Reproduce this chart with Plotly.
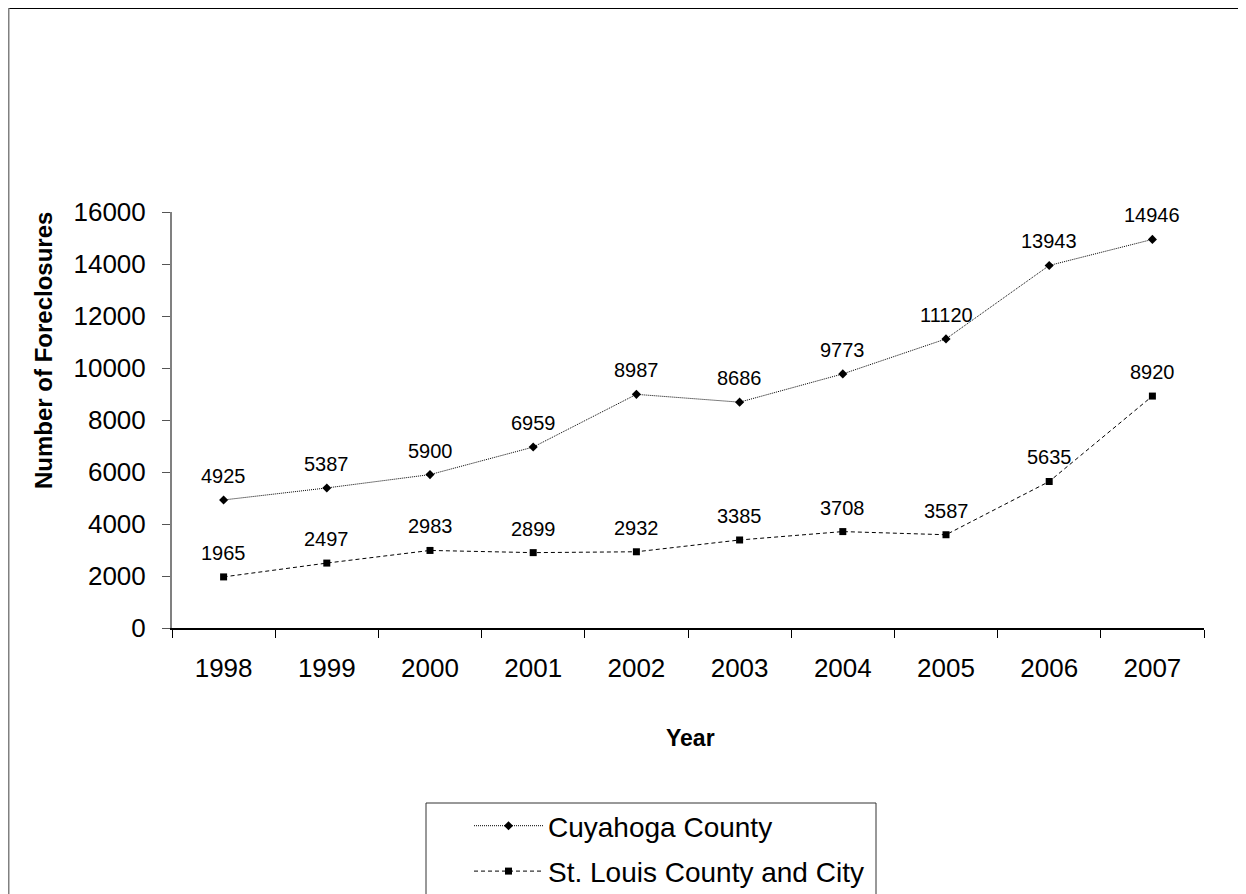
import plotly.graph_objects as go

years = ["1998", "1999", "2000", "2001", "2002", "2003", "2004", "2005", "2006", "2007"]
cuyahoga = [4925, 5387, 5900, 6959, 8987, 8686, 9773, 11120, 13943, 14946]
st_louis = [1965, 2497, 2983, 2899, 2932, 3385, 3708, 3587, 5635, 8920]
y_ticks = [0, 2000, 4000, 6000, 8000, 10000, 12000, 14000, 16000]

# page has an 8px body margin; work in figure coordinates
OFF = 8
W, H = 1246 - OFF, 894 - OFF
L, R, T, B = 172 - OFF, 1204 - OFF, 212 - OFF, 628 - OFF
FONT = "Liberation Sans, Arial, sans-serif"


def px_x(px):  # figure px -> paper x
    return (px - L) / (R - L)


def px_y(py):  # figure px -> paper y
    return (B - py) / (B - T)


fig = go.Figure()
fig.add_trace(go.Scatter(
    x=years, y=cuyahoga, name="Cuyahoga County", mode="lines+markers",
    line=dict(color="black", width=1, dash="1px,1px"),
    marker=dict(symbol="diamond", size=7, color="black"),
    legendgroup="a",
))
fig.add_trace(go.Scatter(
    x=years, y=st_louis, name="St. Louis County and City", mode="lines+markers",
    line=dict(color="black", width=1, dash="4px,3px"),
    marker=dict(symbol="square", size=7, color="black"),
    legendgroup="b",
))

annotations = []
for series in (cuyahoga, st_louis):
    for i, v in enumerate(series):
        annotations.append(dict(
            x=i, y=v, xref="x", yref="y", text=str(v), showarrow=False,
            xanchor="center", yanchor="middle",
            yshift=24, font=dict(size=20, color="black", family=FONT),
        ))

annotations.append(dict(
    x=px_x(35), y=px_y(343), xref="paper", yref="paper",
    xanchor="center", yanchor="middle",
    text="<b>Number of Foreclosures</b>", textangle=-90, showarrow=False,
    font=dict(size=24, color="black", family=FONT),
))
annotations.append(dict(
    x=px_x(682), y=px_y(730), xref="paper", yref="paper",
    xanchor="center", yanchor="middle",
    text="<b>Year</b>", showarrow=False,
    font=dict(size=23, color="black", family=FONT),
))

shapes = [
    # outer frame top
    dict(type="line", xref="paper", yref="paper", x0=px_x(0), x1=px_x(W + 10),
         y0=px_y(-0.5), y1=px_y(-0.5), line=dict(color="black", width=3)),
    # outer frame left
    dict(type="line", xref="paper", yref="paper", x0=px_x(0), x1=px_x(0),
         y0=px_y(0), y1=px_y(H + 10), line=dict(color="#808080", width=3)),
    # legend box
    dict(type="rect", xref="paper", yref="paper", x0=px_x(418), x1=px_x(868),
         y0=px_y(795), y1=px_y(H + 20), line=dict(color="#333333", width=1),
         fillcolor="rgba(0,0,0,0)"),
]

fig.update_layout(
    width=W, height=H,
    margin=dict(l=L, r=W - R, t=T, b=H - B, pad=0, autoexpand=False),
    paper_bgcolor="white", plot_bgcolor="white",
    font=dict(family=FONT, color="black"),
    showlegend=True,
    legend=dict(
        xref="container", yref="container",
        x=461 / W, y=1 - 793 / H, xanchor="left", yanchor="top",
        font=dict(size=28, color="black", family=FONT),
        bgcolor="rgba(0,0,0,0)", borderwidth=0,
        tracegroupgap=6, itemwidth=69,
    ),
    annotations=annotations,
    shapes=shapes,
    xaxis=dict(
        type="category", categoryorder="array", categoryarray=years,
        range=[-0.5, len(years) - 0.5], automargin=False, tickangle=0,
        showgrid=False, zeroline=False, showline=True,
        linecolor="black", linewidth=1.5,
        ticks="outside", ticklen=8, tickcolor="black", tickwidth=1,
        tickson="boundaries",
        tickfont=dict(size=26, color="black", family=FONT),
        ticklabelstandoff=16,
    ),
    yaxis=dict(
        range=[0, 16000], tickvals=y_ticks, tickformat="d", automargin=False,
        showgrid=False, zeroline=False, showline=True,
        linecolor="#808080", linewidth=2,
        ticks="outside", ticklen=8, tickcolor="#555555", tickwidth=1,
        tickfont=dict(size=26, color="black", family=FONT),
        ticklabelstandoff=11,
    ),
)

fig.write_html("out.html")
